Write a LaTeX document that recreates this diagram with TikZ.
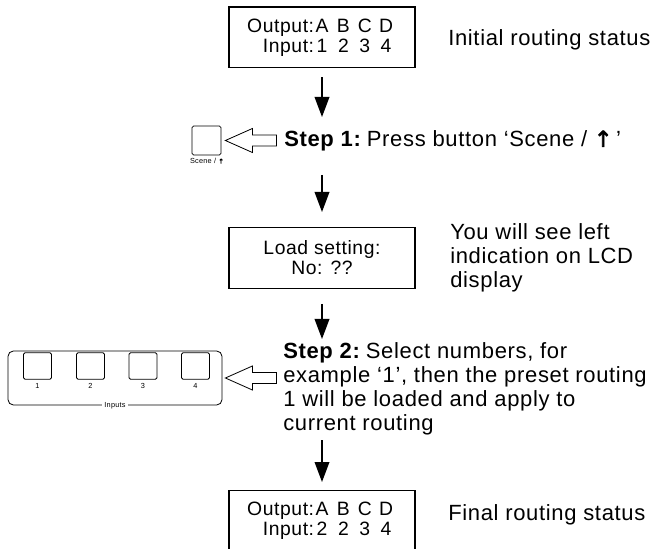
\documentclass[tikz,border=0pt]{standalone}
\usepackage{fontspec}
\setmainfont{Liberation Sans}[LetterSpace=3]
\newfontfamily\arrowfont{DejaVu Sans}[FakeBold=3]
\usetikzlibrary{arrows.meta}

% one row of the LCD text
\newcommand{\lcdrow}[5]{#1\hspace{-2pt}\makebox[16pt]{#2}\makebox[16pt]{#3}\makebox[16pt]{#4}\makebox[16pt]{#5}}
\newcommand{\uparr}{{\arrowfont ↑}}

\tikzset{
	lcd/.style={draw, line width=1pt, minimum width=139.5pt, minimum height=45.5pt,
		inner sep=0pt, align=right, font=\fontsize{14.5}{15}\selectfont},
	note/.style={anchor=west, align=left, inner sep=0pt, font=\fontsize{16.5}{18}\selectfont},
	key/.style={draw, line width=0.6pt, rounded corners=1.2pt, minimum width=21pt, minimum height=20pt, inner sep=0pt},
	tiny/.style={inner sep=0.5pt, font=\fontsize{5.5}{6}\selectfont},
	flow/.style={line width=1.1pt, -{Triangle[length=15pt,width=11pt]}},
	hollow/.pic={\draw[line width=0.6pt, line join=miter] (0,0) -- (27,-12) -- (27,-5.5) -- (51,-5.5)
		-- (51,5.5) -- (27,5.5) -- (27,12) -- cycle;}
}

\begin{document}
\begin{tikzpicture}[x=0.75pt,y=-0.75pt]
	
	\useasboundingbox (0,0) rectangle (654,549);
	
	% LCD boxes
	\node[lcd] (status1) at (322,37.5) {\lcdrow{Output:}{A}{B}{C}{D}\\\lcdrow{Input:}{1}{2}{3}{4}};
	\node[lcd, align=center] (load) at (322,258) {Load setting:\\No: ??};
	\node[lcd] (status2) at (322,521) {\lcdrow{Output:}{A}{B}{C}{D}\\\lcdrow{Input:}{2}{2}{3}{4}};
	
	% texts on the right
	\node[note] (init) at (448,40) {Initial routing status};
	\node[note] (step1) at (284,141) {\textbf{Step 1:}\hspace{4pt}Press button ‘Scene / \uparr\,’};
	\node[note] (seeleft) at (450,258) {You will see left\\indication on LCD\\display};
	\node[note] (step2) at (283,389) {\textbf{Step 2:}\hspace{4pt}Select numbers, for\\example ‘1’, then the preset routing\\1 will be loaded and apply to\\current routing};
	\node[note] (final) at (448,515) {Final routing status};
	
	% Scene button
	\node[key, minimum height=21.75pt, minimum width=21.75pt] (scenebtn) at (206.5,140.5) {};
	\node[tiny] (scenelbl) at (207,161) {Scene / {\arrowfont\fontsize{5}{6}\selectfont ↑}};
	\pic at ([xshift=3pt]scenebtn.east) {hollow};
	
	% Inputs panel
	\node[draw, line width=0.6pt, rounded corners=4pt, minimum width=160.5pt, minimum height=40.5pt] (panel) at (115,378) {};
	\foreach \i/\x in {1/37.5, 2/90.5, 3/143, 4/195.5}{
		\node[key] (in\i) at (\x,366) {};
		\node[tiny] (num\i) at (\x,386) {\i};
	}
	\node[tiny, fill=white, inner xsep=2pt] (inputs) at (panel.south) {Inputs};
	\pic at ([xshift=2.25pt]panel.east) {hollow};
	
	% arrows down
	\coordinate (a1) at (322,117);
	\coordinate (a2) at (322,175);
	\coordinate (a3) at (322,339);
	\coordinate (a4) at (322,440);
	\draw[flow] ([yshift=-6.75pt]status1.south) -- (a1);
	\draw[flow] (a2) -- ([yshift=11.25pt]load.north);
	\draw[flow] ([yshift=-11.25pt]load.south) -- (a3);
	\draw[flow] (a4) -- ([yshift=6pt]status2.north);
	
\end{tikzpicture}
\end{document}
